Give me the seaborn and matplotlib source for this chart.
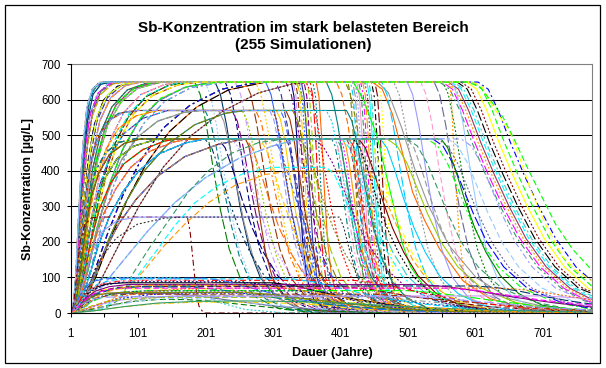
import matplotlib
matplotlib.use("Agg")
import matplotlib.pyplot as plt
import pandas as pd
import seaborn as sns
from matplotlib.patches import Rectangle

# ---------------- data ----------------
TITLE = "Sb-Konzentration im stark belasteten Bereich\n(255 Simulationen)"
X_LABEL = "Dauer (Jahre)"
Y_LABEL = "Sb-Konzentration [µg/L]"
YEAR_TICKS = list(range(1, 775, 50))
YEAR_LABELS = [str(t) if (t - 1) % 100 == 0 else "" for t in YEAR_TICKS]
CONC_TICKS = [0, 100, 200, 300, 400, 500, 600, 700]
GRID_LEVELS = [100, 200, 300, 400, 500, 600]

# rising parts  "year:value"
RISES = {
    "Ra": "1:0 6:30 10:130 15:330 19:420 23:520 30:610 41:645 55:650",
    "Rb": "1:0 7:30 12:160 17:330 23:470 30:560 42:620 60:647 75:650",
    "Rc": "1:0 8:30 14:150 20:300 27:430 36:530 50:600 70:638 95:650",
    "Rd": "1:0 10:30 17:140 25:290 34:410 46:510 62:580 85:628 115:648 130:650",
    "Re": "1:0 12:30 22:140 32:270 44:390 60:490 80:565 105:615 140:643 170:650",
    "Rf": "1:0 15:30 28:130 42:250 58:360 78:460 102:540 132:598 170:635 210:650",
    "Rg": "1:0 18:25 35:110 55:220 78:330 105:430 138:520 178:585 225:630 280:650",
    "Rh": "1:0 22:20 45:90 72:190 102:300 138:410 180:500 228:570 280:620 330:645 360:650",
    "Ra2": "1:0 5:20 9:110 13:280 17:400 21:500 27:590 36:635 50:650",
    "Rb2": "1:0 9:40 14:190 19:340 26:480 34:570 46:625 65:648 80:650",
    "Rc2": "1:0 11:40 18:180 25:320 33:440 44:540 60:605 82:640 105:650",
    "Rd2": "1:0 13:40 21:170 30:310 41:430 56:530 76:595 100:632 135:650",
    "Re2": "1:0 16:40 27:150 39:270 53:380 71:480 94:560 122:612 160:642 190:650",
    "Ra3": "1:0 7:25 11:120 16:300 21:440 26:540 34:615 46:644 62:650",
    "Rb3": "1:0 8:35 13:170 18:320 25:460 33:555 45:615 63:645 85:650",
    "Rc3": "1:0 9:35 16:170 22:310 30:440 40:540 55:605 76:640 100:650",
    "Rd3": "1:0 11:35 19:150 28:300 38:420 51:515 68:585 92:630 120:647 145:650",
    "Re3": "1:0 14:35 25:145 36:270 49:385 66:485 88:562 115:614 150:643 180:650",
    "Rf3": "1:0 17:30 31:125 46:240 63:350 85:455 110:535 140:595 180:635 230:650",
    "Rg3": "1:0 20:25 38:100 60:210 85:320 113:420 147:510 188:580 235:628 290:650",
    "Ra4": "1:0 4:15 8:90 12:250 16:390 20:490 25:580 33:630 45:650",
    "Rb4": "1:0 6:25 11:140 16:310 22:460 29:555 40:615 56:645 70:650",
    "Rc4": "1:0 10:45 16:200 23:350 31:470 41:560 56:615 78:643 100:650",
    "Rd4": "1:0 12:45 20:180 29:320 40:440 54:535 73:598 97:635 125:650",
    "Re4": "1:0 13:25 24:120 35:250 48:370 65:470 86:550 112:608 145:640 175:650",
    "Rf4": "1:0 16:35 29:140 44:260 60:370 80:470 105:550 135:605 175:638 220:650",
    "Sa": "1:0 8:30 14:150 20:280 28:400 38:480 52:535 72:562 95:570",
    "Sb": "1:0 11:30 19:140 28:270 39:380 53:460 72:520 98:555 130:570",
    "Sc": "1:0 15:30 27:130 40:240 56:340 76:430 100:495 130:540 170:565 195:570",
    "Sd": "1:0 20:25 38:110 58:210 82:310 110:400 145:475 185:530 230:562 260:570",
    "Sa2": "1:0 9:40 15:170 22:300 30:410 41:490 56:540 78:564 100:570",
    "Sb2": "1:0 13:30 22:140 32:260 44:360 60:445 80:505 108:548 145:570",
    "Ta": "1:0 8:25 14:120 20:230 28:330 38:400 52:450 72:480 95:490",
    "Tb": "1:0 10:25 18:120 27:220 38:310 52:380 70:435 95:470 125:487 140:490",
    "Tc": "1:0 13:25 24:110 36:200 50:280 68:350 90:410 118:455 155:482 180:490",
    "Td": "1:0 17:20 32:90 50:170 72:250 98:320 130:385 170:440 220:475 260:490",
    "Te": "1:0 25:20 50:80 80:150 115:230 155:310 200:380 250:435 300:470 340:490",
    "Ta2": "1:0 9:30 16:130 23:240 32:330 43:395 58:445 80:477 105:490",
    "Tb2": "1:0 12:25 21:110 31:205 44:295 60:365 80:420 108:460 140:484 160:490",
    "Tc2": "1:0 15:20 28:100 42:190 58:270 78:340 102:400 132:448 170:478 200:490",
}

# falling parts  "year:value"
FALLS = {
    "Fa328": "328:650 332:610 336:500 340:350 345:200 351:100 361:40 378:10 413:0 774:0",
    "Fa331": "331:650 335:610 339:500 343:350 348:200 354:100 364:40 381:10 416:0 774:0",
    "Fa334": "334:650 338:610 342:500 346:350 351:200 357:100 367:40 384:10 419:0 774:0",
    "Fa337": "337:650 341:610 345:500 349:350 354:200 360:100 370:40 387:10 422:0 774:0",
    "Fa340": "340:650 344:610 348:500 352:350 357:200 363:100 373:40 390:10 425:0 774:0",
    "Fa343": "343:650 347:610 351:500 355:350 360:200 366:100 376:40 393:10 428:0 774:0",
    "Fa347": "347:650 351:610 355:500 359:350 364:200 370:100 380:40 397:10 432:0 774:0",
    "Fa351": "351:650 355:610 359:500 363:350 368:200 374:100 384:40 401:10 436:0 774:0",
    "Fa356": "356:650 360:610 364:500 368:350 373:200 379:100 389:40 406:10 441:0 774:0",
    "Fa360": "360:650 364:610 368:500 372:350 377:200 383:100 393:40 410:10 445:0 774:0",
    "Fa365": "365:650 369:610 373:500 377:350 382:200 388:100 398:40 415:10 450:0 774:0",
    "Fa412": "412:650 416:610 420:500 424:350 429:200 435:100 445:40 462:10 497:0 774:0",
    "Fa416": "416:650 420:610 424:500 428:350 433:200 439:100 449:40 466:10 501:0 774:0",
    "Fa419": "419:650 423:610 427:500 431:350 436:200 442:100 452:40 469:10 504:0 774:0",
    "Fa422": "422:650 426:610 430:500 434:350 439:200 445:100 455:40 472:10 507:0 774:0",
    "Fa425": "425:650 429:610 433:500 437:350 442:200 448:100 458:40 475:10 510:0 774:0",
    "Fa428": "428:650 432:610 436:500 440:350 445:200 451:100 461:40 478:10 513:0 774:0",
    "Fa431": "431:650 435:610 439:500 443:350 448:200 454:100 464:40 481:10 516:0 774:0",
    "Fa434": "434:650 438:610 442:500 446:350 451:200 457:100 467:40 484:10 519:0 774:0",
    "Fa437": "437:650 441:610 445:500 449:350 454:200 460:100 470:40 487:10 522:0 774:0",
    "Fa440": "440:650 444:610 448:500 452:350 457:200 463:100 473:40 490:10 525:0 774:0",
    "Fa443": "443:650 447:610 451:500 455:350 460:200 466:100 476:40 493:10 528:0 774:0",
    "Fa447": "447:650 451:610 455:500 459:350 464:200 470:100 480:40 497:10 532:0 774:0",
    "Fa452": "452:650 456:610 460:500 464:350 469:200 475:100 485:40 502:10 537:0 774:0",
    "Fa457": "457:650 461:610 465:500 469:350 474:200 480:100 490:40 507:10 542:0 774:0",
    "Fe185": "185:650 193:615 202:530 212:410 223:290 236:180 252:100 275:45 310:12 365:0 774:0",
    "Fe200": "200:650 208:615 217:530 227:410 238:290 251:180 267:100 290:45 325:12 380:0 774:0",
    "Fe215": "215:650 223:615 232:530 242:410 253:290 266:180 282:100 305:45 340:12 395:0 774:0",
    "Fe230": "230:650 238:615 247:530 257:410 268:290 281:180 297:100 320:45 355:12 410:0 774:0",
    "Fe245": "245:650 253:615 262:530 272:410 283:290 296:180 312:100 335:45 370:12 425:0 774:0",
    "Fe260": "260:650 268:615 277:530 287:410 298:290 311:180 327:100 350:45 385:12 440:0 774:0",
    "Fe275": "275:650 283:615 292:530 302:410 313:290 326:180 342:100 365:45 400:12 455:0 774:0",
    "Fe290": "290:650 298:615 307:530 317:410 328:290 341:180 357:100 380:45 415:12 470:0 774:0",
    "Fe305": "305:650 313:615 322:530 332:410 343:290 356:180 372:100 395:45 430:12 485:0 774:0",
    "Fe320": "320:650 328:615 337:530 347:410 358:290 371:180 387:100 410:45 445:12 500:0 774:0",
    "Fe335": "335:650 343:615 352:530 362:410 373:290 386:180 402:100 425:45 460:12 515:0 774:0",
    "Fe350": "350:650 358:615 367:530 377:410 388:290 401:180 417:100 440:45 475:12 530:0 774:0",
    "Fe380": "380:650 388:615 397:530 407:410 418:290 431:180 447:100 470:45 505:12 560:0 774:0",
    "Fe395": "395:650 403:615 412:530 422:410 433:290 446:180 462:100 485:45 520:12 575:0 774:0",
    "Fe408": "408:650 416:615 425:530 435:410 446:290 459:180 475:100 498:45 533:12 588:0 774:0",
    "Fe462": "462:650 470:615 479:530 489:410 500:290 513:180 529:100 552:45 587:12 642:0 774:0",
    "Fe480": "480:650 488:615 497:530 507:410 518:290 531:180 547:100 570:45 605:12 660:0 774:0",
    "Fe500": "500:650 508:615 517:530 527:410 538:290 551:180 567:100 590:45 625:12 680:0 774:0",
    "Fe520": "520:650 528:615 537:530 547:410 558:290 571:180 587:100 610:45 645:12 700:0 774:0",
    "Fe540": "540:650 548:615 557:530 567:410 578:290 591:180 607:100 630:45 665:12 720:0 774:0",
    "Fe553": "553:650 561:615 570:530 580:410 591:290 604:180 620:100 643:45 678:12 733:0 774:0",
    "Fe566": "566:650 574:615 583:530 593:410 604:290 617:180 633:100 656:45 691:12 746:0 774:0",
    "Fd548": "548:650 563:630 578:570 596:480 616:390 638:300 663:210 693:130 728:70 762:35 774:28",
    "Fd552": "552:650 567:630 582:570 600:480 620:390 642:300 667:210 697:130 732:70 766:35 774:30",
    "Fd557": "557:650 572:630 587:570 605:480 625:390 647:300 672:210 702:130 737:70 774:33",
    "Fd561": "561:650 576:630 591:570 609:480 629:390 651:300 676:210 706:130 741:70 774:38",
    "Fd565": "565:650 580:630 595:570 613:480 633:390 655:300 680:210 710:130 745:70 774:42",
    "Fd569": "569:650 584:630 599:570 617:480 637:390 659:300 684:210 714:130 749:70 774:48",
    "Fd574": "574:650 589:630 604:570 622:480 642:390 664:300 689:210 719:130 754:70 774:55",
    "Fd580": "580:650 595:630 610:570 628:480 648:390 670:300 695:210 725:130 760:70 774:60",
    "Fd588": "588:650 603:630 618:570 636:480 656:390 678:300 703:210 733:130 768:70 774:65",
    "Fd596": "596:650 611:630 626:570 644:480 664:390 686:300 711:210 741:130 774:75",
    "Fd605": "605:650 620:630 635:570 653:480 673:390 695:300 720:210 750:130 774:90",
    "orange": "448:650 463:630 478:560 493:450 508:340 526:260 548:180 583:90 623:40 683:10 774:2",
    "gray": "456:650 472:620 492:520 512:400 532:300 562:190 602:100 652:40 722:10 774:3",
    "greensolid": "420:650 435:600 455:500 470:380 480:300 492:200 505:130 525:75 545:45 600:12 680:2 774:0",
    "orangedot": "563:650 566:580 569:460 573:330 578:200 585:100 595:40 615:10 660:0 774:0",
    "yellow": "595:650 610:640 623:594 638:550 653:506 668:430 683:346 705:250 730:160 750:120 774:90",
    "greendash": "590:650 608:636 625:595 642:551 657:495 678:410 697:337 720:250 745:180 774:120",
    "G296": "296:570 302:545 308:490 315:400 323:300 333:200 346:115 366:50 396:15 446:0 774:0",
    "G300": "300:570 306:545 312:490 319:400 327:300 337:200 350:115 370:50 400:15 450:0 774:0",
    "G306": "306:570 312:545 318:490 325:400 333:300 343:200 356:115 376:50 406:15 456:0 774:0",
    "G312": "312:570 318:545 324:490 331:400 339:300 349:200 362:115 382:50 412:15 462:0 774:0",
    "G320": "320:570 326:545 332:490 339:400 347:300 357:200 370:115 390:50 420:15 470:0 774:0",
    "Gm200": "200:570 208:540 217:465 227:360 238:255 251:160 267:90 290:40 325:10 380:0 774:0",
    "Gm220": "220:570 228:540 237:465 247:360 258:255 271:160 287:90 310:40 345:10 400:0 774:0",
    "Gm240": "240:570 248:540 257:465 267:360 278:255 291:160 307:90 330:40 365:10 420:0 774:0",
    "Gm255": "255:570 263:540 272:465 282:360 293:255 306:160 322:90 345:40 380:10 435:0 774:0",
    "Gm275": "275:570 283:540 292:465 302:360 313:255 326:160 342:90 365:40 400:10 455:0 774:0",
    "Gm330": "330:570 338:540 347:465 357:360 368:255 381:160 397:90 420:40 455:10 510:0 774:0",
    "Gm380": "380:570 388:540 397:465 407:360 418:255 431:160 447:90 470:40 505:10 560:0 774:0",
    "Gm410": "410:570 418:540 427:465 437:360 448:255 461:160 477:90 500:40 535:10 590:0 774:0",
    "H260": "260:490 265:470 270:420 276:340 283:250 290:170 300:100 315:50 340:15 390:2 774:0",
    "H320": "320:490 325:470 330:420 336:340 343:250 350:170 360:100 375:50 400:15 450:2 774:0",
    "H388": "388:490 393:470 398:420 404:340 411:250 418:170 428:100 443:50 468:15 518:2 774:0",
    "H392": "392:490 397:470 402:420 408:340 415:250 422:170 432:100 447:50 472:15 522:2 774:0",
    "H396": "396:490 401:470 406:420 412:340 419:250 426:170 436:100 451:50 476:15 526:2 774:0",
    "H400": "400:490 405:470 410:420 416:340 423:250 430:170 440:100 455:50 480:15 530:2 774:0",
    "H404": "404:490 409:470 414:420 420:340 427:250 434:170 444:100 459:50 484:15 534:2 774:0",
    "H410": "410:490 415:470 420:420 426:340 433:250 440:170 450:100 465:50 490:15 540:2 774:0",
    "H415": "415:490 420:470 425:420 431:340 438:250 445:170 455:100 470:50 495:15 545:2 774:0",
    "Hm200": "200:490 210:465 222:400 235:320 250:240 267:170 288:105 315:55 350:22 410:5 774:0",
    "Hm220": "220:490 230:465 242:400 255:320 270:240 287:170 308:105 335:55 370:22 430:5 774:0",
    "Hm240": "240:490 250:465 262:400 275:320 290:240 307:170 328:105 355:55 390:22 450:5 774:0",
    "Hm260": "260:490 270:465 282:400 295:320 310:240 327:170 348:105 375:55 410:22 470:5 774:0",
    "Hm280": "280:490 290:465 302:400 315:320 330:240 347:170 368:105 395:55 430:22 490:5 774:0",
    "Hm300": "300:490 310:465 322:400 335:320 350:240 367:170 388:105 415:55 450:22 510:5 774:0",
    "Hm340": "340:490 350:465 362:400 375:320 390:240 407:170 428:105 455:55 490:22 550:5 774:0",
    "Hm404": "404:490 414:465 426:400 439:320 454:240 471:170 492:105 519:55 554:22 614:5 774:0",
    "Hm412": "412:490 422:465 434:400 447:320 462:240 479:170 500:105 527:55 562:22 622:5 774:0",
    "Hm420": "420:490 430:465 442:400 455:320 470:240 487:170 508:105 535:55 570:22 630:5 774:0",
    "Hm428": "428:490 438:465 450:400 463:320 478:240 495:170 516:105 543:55 578:22 638:5 774:0",
    "Hm440": "440:490 450:465 462:400 475:320 490:240 507:170 528:105 555:55 590:22 650:5 774:0",
    "Hm460": "460:490 470:465 482:400 495:320 510:240 527:170 548:105 575:55 610:22 670:5 774:0",
    "Hm500": "500:490 510:465 522:400 535:320 550:240 567:170 588:105 615:55 650:22 710:5 774:2",
    "Hm550": "550:490 560:465 572:400 585:320 600:240 617:170 638:105 665:55 700:22 760:5 774:3",
    "Hs360": "360:490 375:470 390:420 405:350 420:280 440:200 465:130 500:70 550:30 604:10 774:0",
    "Hs470": "470:490 485:470 500:420 515:350 530:280 550:200 575:130 610:70 660:30 714:10 774:4",
    "Hs530": "530:490 545:470 560:420 575:350 590:280 610:200 635:130 670:70 720:30 774:10",
    "Hs538": "538:490 553:470 568:420 583:350 598:280 618:200 643:130 678:70 728:30 774:12",
    "Hs545": "545:490 560:470 575:420 590:350 605:280 625:200 650:130 685:70 735:30 774:15",
    "Hs560": "560:490 575:470 590:420 605:350 620:280 640:200 665:130 700:70 750:30 774:20",
    "Hs580": "580:490 595:470 610:420 625:350 640:280 660:200 685:130 720:70 770:30 774:28",
}

SIMS_650 = [
    ("Ra", "Fa328"), ("Rb", "Fa331"), ("Rc", "Fa334"), ("Rd", "Fa337"), ("Re", "Fa340"),
    ("Ra2", "Fa343"), ("Rb2", "Fa347"), ("Rf", "Fa351"), ("Rc2", "Fa356"),
    ("Rb", "Fa360"), ("Rd2", "Fa365"), ("Rc", "Fa412"),
    ("Ra3", "Fa416"), ("Rb3", "Fa419"), ("Rc3", "Fa422"), ("Rd3", "Fa425"), ("Re3", "Fa428"),
    ("Rf3", "Fa431"), ("Ra4", "Fa434"), ("Rb4", "Fa437"), ("Rc4", "Fa440"), ("Rd4", "Fa443"),
    ("Rg", "Fa447"), ("Re4", "Fa452"), ("Re2", "Fa457"),
    ("Rg3", "orange"), ("Rh", "gray"), ("Rd2", "greensolid"),
    ("Ra2", "Fe185"), ("Rb4", "Fe200"), ("Ra3", "Fe215"), ("Rc", "Fe230"), ("Rd2", "Fe245"),
    ("Re2", "Fe260"), ("Rf4", "Fe275"), ("Rf", "Fe290"), ("Rc3", "Fe305"), ("Ra4", "Fe320"),
    ("Rb3", "Fe335"), ("Rd", "Fe350"), ("Rd", "Fe380"), ("Re", "Fe395"),
    ("Rg", "Fe408"), ("Ra2", "Fe462"), ("Rf", "Fe480"), ("Rc2", "Fe500"), ("Re", "Fe520"),
    ("Ra", "Fd548"), ("Rb", "Fd552"), ("Rc2", "Fd557"), ("Rd3", "Fd561"), ("Re3", "Fd565"),
    ("Rf3", "Fd569"), ("Rg3", "Fd574"), ("Rh", "Fd580"), ("Rc4", "Fd588"), ("Rd4", "Fd596"),
    ("Rg", "Fd605"),
    ("Rb2", "Fe540"), ("Re4", "Fe553"), ("Ra4", "Fe566"),
    ("Rb3", "orangedot"), ("Re2", "yellow"), ("Rf4", "greendash"),
]
SIMS_570 = [
    ("Sa", "G300"), ("Sb", "G306"), ("Sc", "G312"), ("Sa2", "G320"), ("Sb2", "Gm240"),
    ("Sc", "Gm255"), ("Sd", "Gm410"), ("Sa", "Gm200"), ("Sb", "Gm275"), ("Sd", "Gm330"),
    ("Sb2", "Gm380"), ("Sc", "Gm220"), ("Sa2", "G296"),
]
SIMS_490 = [
    ("Ta", "H392"), ("Tb", "H396"), ("Tc", "H400"), ("Td", "H404"), ("Ta2", "H410"),
    ("Tb2", "Hm404"), ("Te", "Hm412"), ("Tc2", "Hm420"), ("Td", "Hm428"), ("Ta", "Hm440"),
    ("Ta2", "Hs530"), ("Tb", "Hs538"), ("Tc", "Hs545"), ("Tb2", "Hm550"), ("Te", "Hs560"),
    ("Ta", "Hm200"), ("Tb", "Hm220"), ("Tc", "Hm240"), ("Ta2", "H260"), ("Tb2", "Hm280"),
    ("Td", "Hm300"), ("Tc2", "H320"), ("Tc2", "Hs360"), ("Tb", "Hs470"),
    ("Tb2", "H415"), ("Ta", "H388"), ("Tc", "Hm260"), ("Ta2", "Hm340"), ("Tc2", "Hm460"),
    ("Td", "Hm500"), ("Te", "Hs580"),
]
MID = {
    "d1": "1:0 5:20 10:110 15:200 22:250 32:268 45:270 174:270 178:230 182:155 186:80 191:20 198:0 774:0",
    "d2": "1:0 10:20 20:90 32:170 48:230 70:260 100:270 336:270 340:240 344:180 349:110 356:50 365:15 385:0 774:0",
    "d3": "1:0 14:20 28:80 45:150 68:210 100:250 140:267 170:270 400:270 406:240 414:180 424:110 438:55 460:20 500:3 774:0",
    "m1": "1:0 40:15 80:60 110:120 140:190 170:250 205:310 245:360 290:390 330:400 440:400 455:370 470:310 488:230 508:150 535:80 575:30 640:5 774:0",
    "m2": "1:0 50:10 75:40 92:107 120:190 150:270 175:340 205:400 240:450 280:480 320:490 500:490 515:470 530:420 545:350 560:280 580:200 605:130 640:70 690:30 744:10 774:6",
    "m3": "1:0 45:10 70:40 101:107 130:180 156:248 185:310 220:360 260:395 300:410 380:410 392:390 404:340 418:270 434:190 452:120 475:60 510:20 560:3 774:0",
}
LOW = [
    "1:0 8:20 16:55 26:80 40:95 60:100 160:100 175:90 195:60 220:30 260:10 320:0 774:0",
    "1:0 10:15 20:45 35:70 55:82 80:85 300:85 330:78 370:60 420:40 480:22 560:8 650:2 774:0",
    "1:0 12:15 25:40 45:62 70:72 100:75 400:75 440:68 490:52 550:34 620:18 700:8 774:4",
    "1:0 9:15 18:40 30:58 50:66 80:68 220:68 260:60 300:45 350:28 420:12 500:3 774:0",
    "1:0 15:10 30:30 55:50 85:60 120:63 500:63 540:57 590:45 640:32 700:18 774:8",
    "1:0 20:8 45:25 80:42 120:52 170:56 250:56 300:50 360:38 430:24 520:10 620:3 774:0",
    "1:0 6:10 14:30 25:45 40:52 60:55 150:55 190:48 240:35 300:20 380:8 470:2 774:0",
    "1:0 20:5 50:18 90:32 130:38 170:38 210:33 250:25 300:15 360:7 440:2 774:0",
    "1:0 25:5 60:20 100:33 140:40 180:41 220:37 270:28 330:17 400:8 500:2 774:0",
    "1:0 12:12 25:35 42:55 65:68 95:74 140:76 600:76 630:72 665:62 700:48 740:34 774:25",
    "1:0 8:12 18:38 32:62 50:78 75:86 110:88 250:88 290:80 340:62 400:42 470:24 560:10 660:3 774:0",
    "1:0 18:8 40:22 70:35 110:44 160:48 700:48 730:45 774:40",
    "1:0 10:10 22:28 38:42 60:50 90:53 450:53 500:47 560:36 630:24 700:14 774:8",
    "1:0 30:5 70:15 120:25 180:30 240:31 300:29 380:22 460:14 560:7 680:2 774:0",
    "1:0 7:20 15:50 24:75 36:90 52:96 75:98 200:98 230:90 270:70 320:45 380:25 460:10 560:2 774:0",
    "1:0 14:10 28:30 48:48 75:58 110:62 360:62 400:56 450:44 510:30 580:17 660:7 774:2",
    "1:0 11:15 23:42 38:62 58:74 85:80 520:80 560:74 610:60 660:44 720:28 774:17",
    "1:0 16:8 35:22 60:34 95:41 140:44 300:44 340:40 400:31 470:20 560:10 660:4 774:1",
    "1:0 9:18 19:48 32:70 50:84 75:90 110:92 420:92 450:86 490:70 540:50 600:30 670:14 774:4",
    "1:0 13:15 27:40 45:60 70:70 100:73 180:73 220:66 270:52 330:36 400:21 490:9 600:2 774:0",
    "1:0 22:10 50:30 85:50 125:62 170:68 230:70 640:70 670:66 710:56 750:44 774:37",
    "1:0 9:10 20:30 35:48 55:56 80:58 260:58 300:52 350:40 410:26 480:13 570:4 774:0",
    "1:0 12:20 24:55 40:80 60:92 85:96 330:96 360:88 400:70 450:48 510:28 590:12 680:4 774:1",
    "1:0 25:6 55:20 95:36 140:46 190:50 400:50 450:45 520:34 600:20 690:9 774:4",
    "1:0 8:8 18:25 32:38 50:44 75:46 500:46 560:40 630:28 700:16 774:8",
    "1:0 14:25 28:60 45:82 68:90 95:92 180:92 210:84 250:62 300:38 360:18 430:6 520:1 774:0",
    "1:0 35:6 80:18 130:28 190:33 260:34 340:32 420:26 510:17 620:8 774:2",
    "1:0 10:12 21:35 36:55 56:66 80:70 560:70 600:64 650:50 700:36 774:22",
    "1:0 18:15 35:40 55:60 80:72 110:78 280:78 320:70 370:55 430:36 500:20 590:8 690:2 774:0",
]

# ---------------- styles ----------------
PAL = ['#000080', '#FF00FF', '#FFCC00', '#00FFFF', '#800080', '#800000', '#008080',
       '#0000FF', '#00CCFF', '#99CCFF', '#FF99CC', '#CC99FF', '#FF9900', '#3366FF',
       '#33CCCC', '#99CC00', '#FFFF00', '#FF6600', '#666699', '#969696', '#003366',
       '#339966', '#993300', '#993366', '#333399', '#000000', '#FF0000', '#00FF00',
       '#808000', '#008000', '#9999FF']
DASHES = {"solid": None, "dash": (4.3, 2.2), "dot": (1.4, 1.4),
          "dashdot": (4.3, 2.2, 1.4, 2.2), "long": (7.2, 2.2)}
STYLE_CYCLE = ["solid", "dash", "dashdot", "long", "dot"]
OVERRIDES = {"orange": ("#FF6600", "solid"), "gray": ("#969696", "solid"),
             "greensolid": ("#00FF00", "solid"), "orangedot": ("#FF9900", "dot"),
             "yellow": ("#FFFF00", "dash"), "greendash": ("#00FF00", "dash"),
             "Gm410": ("#008080", "solid"), "G320": ("#993300", "solid"),
             "d1": ("#800000", "dashdot"), "d2": ("#9999FF", "solid"),
             "d3": ("#333333", "dot"),
             "m2": ("#339966", "dash"), "m3": ("#00FFFF", "dash")}


def parse(s):
    pairs = [tok.split(":") for tok in s.split()]
    return [float(a) for a, _ in pairs], [float(b) for _, b in pairs]


entries = []  # (name, key, string)
for group in (SIMS_650, SIMS_570, SIMS_490):
    for rise, fall in group:
        entries.append((f"{rise}|{fall}", fall, RISES[rise] + " " + FALLS[fall]))
for k, s in MID.items():
    entries.append((k, k, s))
for i, s in enumerate(LOW):
    entries.append((f"low{i}", f"low{i}", s))

rows = []
names, colors, styles = [], [], []
for i, (name, key, s) in enumerate(entries):
    xs, ys = parse(s)
    for x, y in zip(xs, ys):
        rows.append((name, x, y))
    names.append(name)
    c, st = OVERRIDES.get(key, (PAL[(i * 11) % len(PAL)], STYLE_CYCLE[i % len(STYLE_CYCLE)]))
    colors.append(c)
    styles.append(st)
df = pd.DataFrame(rows, columns=["sim", "Jahr", "Konz"])

# ---------------- figure ----------------
sns.set_style("white")
plt.rcParams["font.family"] = ["Liberation Sans", "DejaVu Sans"]
plt.rcParams["lines.scale_dashes"] = False
for k in ("text.color", "axes.labelcolor", "xtick.color", "ytick.color"):
    plt.rcParams[k] = "black"

W, H = 606, 368
fig = plt.figure(figsize=(W / 100, H / 100), dpi=100)
ax = fig.add_axes([70.7 / W, 1 - 313 / H, (591.7 - 70.7) / W, (313 - 64.3) / H])

for g in GRID_LEVELS:
    ax.axhline(g, color="black", lw=0.75, zorder=0.5)

sns.lineplot(data=df, x="Jahr", y="Konz", hue="sim", hue_order=names, palette=colors,
             estimator=None, sort=False, legend=False, linewidth=0.8, ax=ax)
for line, st in zip(ax.lines[len(GRID_LEVELS):], styles):
    d = DASHES[st]
    if d is None:
        line.set_linestyle("-")
    else:
        line.set_linestyle((0, d))

ax.set_xlim(1, 773.5)
ax.set_ylim(0, 700)
ax.set_xticks(YEAR_TICKS)
ax.set_xticklabels(YEAR_LABELS)
ax.set_yticks(CONC_TICKS)
ax.set_yticklabels([str(v) for v in CONC_TICKS])
ax.tick_params(axis="x", direction="out", length=3, width=0.75, pad=7.5,
               labelsize=8.3, colors="black", bottom=True)
ax.tick_params(axis="y", direction="out", length=3, width=0.75, pad=4.3,
               labelsize=8.3, colors="black", left=True)
ax.set_xlabel("")
ax.set_ylabel("")
for side in ("left", "bottom"):
    ax.spines[side].set_color("black")
    ax.spines[side].set_linewidth(0.8)
for side in ("top", "right"):
    ax.spines[side].set_color("#808080")
    ax.spines[side].set_linewidth(0.8)
ax.spines["left"].set_zorder(5)

fig.text(0.5, 1 - 36.5 / H, TITLE, ha="center", va="center", fontsize=11,
         fontweight="bold", linespacing=1.25, color="black")
fig.text(28 / W, 1 - 189.5 / H, Y_LABEL, rotation=90, ha="center", va="center",
         fontsize=9, fontweight="bold", color="black")
fig.text(332 / W, 1 - 353 / H, X_LABEL, ha="center", va="center", fontsize=9,
         fontweight="bold", color="black")

fig.patches.append(Rectangle((5 / W, 1 - 363 / H), 595 / W, 358 / H, transform=fig.transFigure,
                             fill=False, edgecolor="black", lw=0.9))

fig.savefig("out.png", dpi=100, facecolor="white")
